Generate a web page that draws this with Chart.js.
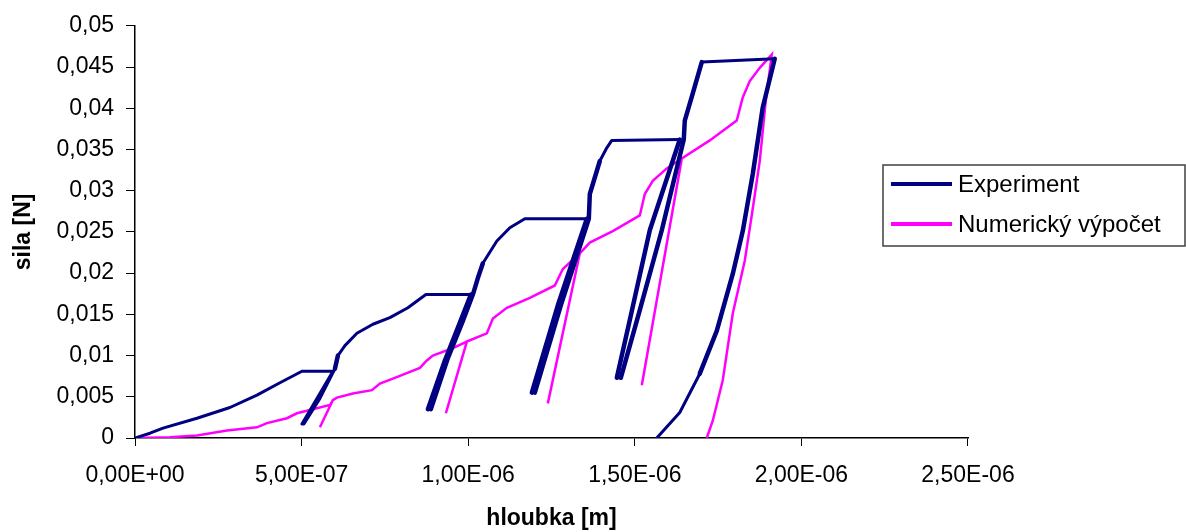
<!DOCTYPE html>
<html>
<head>
<meta charset="utf-8">
<script src="https://cdn.jsdelivr.net/npm/chart.js@4/dist/chart.umd.min.js"></script>
<style>
	html, body { margin: 0; padding: 0; background: #fff; }
	#wrap { width: 1186px; height: 532px; }
</style>
</head>
<body>
<div id="wrap"><canvas id="c" width="1186" height="532"></canvas></div>
<script>
// indentation curve: depth [m] vs force [N]
let expDepth = [0, 0.45e-7, 0.84e-7, 1.86e-7, 2.85e-7, 3.66e-7, 4.35e-7, 5.01e-7, 5.94e-7,
	5.46e-7, 5.01e-7, 5.07e-7, 5.55e-7, 6.00e-7,
	6.09e-7, 6.30e-7, 6.66e-7, 7.14e-7, 7.65e-7, 8.19e-7, 8.73e-7, 10.08e-7,
	9.75e-7, 9.30e-7, 8.79e-7, 8.88e-7, 9.39e-7, 9.84e-7, 10.14e-7,
	10.29e-7, 10.44e-7, 10.86e-7, 11.25e-7, 11.70e-7, 13.56e-7,
	12.69e-7, 11.91e-7, 12.00e-7, 12.78e-7, 13.62e-7,
	13.65e-7, 13.95e-7, 14.16e-7, 14.31e-7, 16.35e-7,
	15.45e-7, 14.85e-7, 14.46e-7, 14.58e-7, 15.15e-7, 15.81e-7, 16.47e-7,
	16.50e-7, 16.74e-7, 17.01e-7, 19.20e-7,
	18.84e-7, 18.54e-7, 18.24e-7, 17.94e-7, 17.46e-7, 16.95e-7, 16.35e-7, 15.66e-7];
let expForce = [0, 0.00058, 0.0012, 0.0024, 0.0037, 0.0052, 0.0067, 0.0081, 0.0081,
	0.0048, 0.0017, 0.0017, 0.0048, 0.0084,
	0.0100, 0.0112, 0.0127, 0.0138, 0.0146, 0.0158, 0.0174, 0.0174,
	0.0140, 0.0094, 0.0035, 0.0035, 0.0097, 0.0142, 0.0174,
	0.0194, 0.0212, 0.0239, 0.0255, 0.0266, 0.0266,
	0.0161, 0.0055, 0.0055, 0.0161, 0.0266,
	0.0296, 0.0336, 0.0352, 0.0361, 0.0362,
	0.0252, 0.0143, 0.0073, 0.0073, 0.0155, 0.0252, 0.0362,
	0.0385, 0.0418, 0.0456, 0.0460,
	0.0401, 0.0320, 0.0251, 0.0199, 0.0130, 0.0078, 0.0031, 0];

let numDepth = [0, 1.05e-7, 1.86e-7, 2.76e-7, 3.66e-7, 3.96e-7, 4.56e-7, 4.86e-7, 5.25e-7, 5.85e-7, 5.94e-7,
	5.55e-7, 5.94e-7,
	6.06e-7, 6.54e-7, 7.11e-7, 7.35e-7, 7.74e-7, 8.55e-7, 8.76e-7, 8.94e-7, 9.54e-7, 9.96e-7,
	9.33e-7, 9.96e-7,
	10.56e-7, 10.74e-7, 11.16e-7, 11.85e-7, 12.60e-7, 12.84e-7, 13.35e-7,
	12.39e-7, 13.35e-7,
	13.65e-7, 14.34e-7, 15.15e-7, 15.30e-7, 15.54e-7, 15.96e-7, 16.41e-7,
	15.21e-7, 16.41e-7,
	17.25e-7, 18.06e-7, 18.24e-7, 18.45e-7, 18.75e-7, 19.11e-7,
	18.93e-7, 18.75e-7, 18.51e-7, 18.30e-7, 17.94e-7, 17.64e-7, 17.34e-7, 17.16e-7];
let numForce = [0, 0.0001, 0.0003, 0.0009, 0.0013, 0.0018, 0.0024, 0.0030, 0.0034, 0.0040, 0.0046,
	0.0013, 0.0046,
	0.0049, 0.0054, 0.0058, 0.0066, 0.0072, 0.0085, 0.0094, 0.0100, 0.0109, 0.0117,
	0.0030, 0.0117,
	0.0127, 0.0145, 0.0158, 0.0170, 0.0185, 0.0205, 0.0224,
	0.0042, 0.0224,
	0.0237, 0.0251, 0.0270, 0.0296, 0.0312, 0.0327, 0.0339,
	0.0064, 0.0339,
	0.0361, 0.0385, 0.0413, 0.0433, 0.0449, 0.0465,
	0.0409, 0.0336, 0.0270, 0.0215, 0.0151, 0.0070, 0.0021, 0];

let seriesNames = ["Experiment", "Numerický výpočet"];
let xTickLabels = ["0,00E+00", "5,00E-07", "1,00E-06", "1,50E-06", "2,00E-06", "2,50E-06"];
let yTickLabels = ["0", "0,005", "0,01", "0,015", "0,02", "0,025", "0,03", "0,035", "0,04", "0,045", "0,05"];

let expColor = "#000080";
let numColor = "#ff00ff";
let fontName = "'Liberation Sans', Arial, sans-serif";

function toPoints(xs, ys) {
	return xs.map((x, i) => ({ x: x, y: ys[i] }));
}

// steep unload/reload parts of the measured curve are noisy, so draw them heavier
function expSegWidth(ctx) {
	let dx = Math.abs(ctx.p1.x - ctx.p0.x);
	let dy = Math.abs(ctx.p1.y - ctx.p0.y);
	return dy > 2.2 * dx ? 4.5 : 3;
}

// boxed legend on the right, like the spreadsheet one
const boxLegend = {
	id: "boxLegend",
	afterDraw(chart) {
		let ctx = chart.ctx;
		let left = 883, top = 165, w = 302, h = 81;
		ctx.save();
		ctx.strokeStyle = "#404040";
		ctx.lineWidth = 1.5;
		ctx.strokeRect(left, top, w, h);
		ctx.font = "24px " + fontName;
		ctx.textBaseline = "middle";
		ctx.fillStyle = "#000";
		chart.data.datasets.forEach((ds, i) => {
			let y = top + 19 + i * 40;
			ctx.strokeStyle = ds.borderColor;
			ctx.lineWidth = 4;
			ctx.beginPath();
			ctx.moveTo(891, y);
			ctx.lineTo(952, y);
			ctx.stroke();
			ctx.fillText(ds.label, 958, y + 1);
		});
		ctx.restore();
	}
};

new Chart(document.getElementById("c"), {
	type: "scatter",
	data: {
		datasets: [
			{
				label: seriesNames[0],
				data: toPoints(expDepth, expForce),
				showLine: true,
				borderColor: expColor,
				borderWidth: 3,
				borderJoinStyle: "round",
				borderCapStyle: "round",
				segment: { borderWidth: expSegWidth },
				pointRadius: 0,
				tension: 0
			},
			{
				label: seriesNames[1],
				data: toPoints(numDepth, numForce),
				showLine: true,
				borderColor: numColor,
				borderWidth: 2.5,
				pointRadius: 0,
				tension: 0
			}
		]
	},
	options: {
		responsive: false,
		animation: false,
		layout: { padding: { top: 25, right: 218, left: 0, bottom: 0 } },
		plugins: {
			legend: { display: false },
			tooltip: { enabled: false }
		},
		scales: {
			x: {
				type: "linear",
				min: 0,
				max: 2.5e-6,
				afterFit: s => { s.height = 94; },
				afterBuildTicks: s => { s.ticks = xTickLabels.map((t, i) => ({ value: i * 5e-7 })); },
				ticks: {
					color: "#000",
					font: { size: 23, family: fontName },
					padding: 16,
					maxRotation: 0,
					callback: (v, i) => xTickLabels[i]
				},
				grid: { drawOnChartArea: false, drawTicks: true, tickLength: 8, color: "#000" },
				border: { display: true, color: "#000", width: 1.5 },
				title: {
					display: true,
					text: "hloubka [m]",
					color: "#000",
					font: { size: 23, weight: "bold", family: fontName },
					padding: { top: 8, bottom: 0 }
				}
			},
			y: {
				type: "linear",
				min: 0,
				max: 0.05,
				afterFit: s => { s.width = 135; },
				afterBuildTicks: s => { s.ticks = yTickLabels.map((t, i) => ({ value: i * 0.005 })); },
				ticks: {
					color: "#000",
					font: { size: 23, family: fontName },
					padding: 12,
					callback: (v, i) => yTickLabels[i]
				},
				grid: { drawOnChartArea: false, drawTicks: true, tickLength: 9, color: "#000" },
				border: { display: true, color: "#000", width: 1.5 },
				title: {
					display: true,
					text: "sila [N]",
					color: "#000",
					font: { size: 23, weight: "bold", family: fontName },
					padding: { top: 10, bottom: 0 }
				}
			}
		}
	},
	plugins: [boxLegend]
});
</script>
</body>
</html>
